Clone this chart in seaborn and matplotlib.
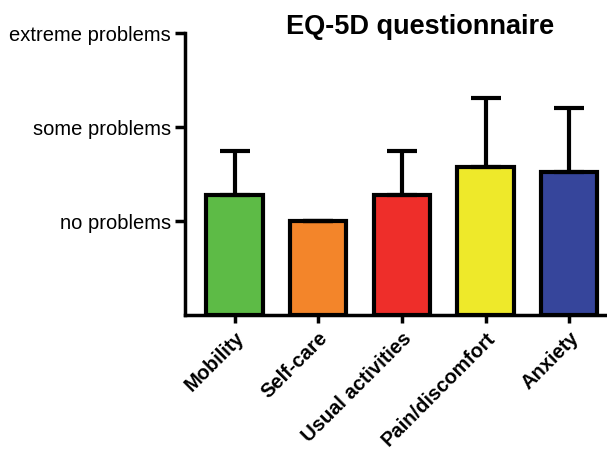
import matplotlib
matplotlib.use("Agg")
import matplotlib.pyplot as plt
import seaborn as sns
import numpy as np

categories = ["Mobility", "Self-care", "Usual activities", "Pain/discomfort", "Anxiety"]
means = [1.28, 1.00, 1.28, 1.57, 1.52]
upper = [1.74, 1.00, 1.74, 2.31, 2.20]
colors = ["#5DBB46", "#F3852A", "#EE2E2A", "#EEE92A", "#36459B"]
ytick_vals = [1, 2, 3]
ytick_labels = ["no problems", "some problems", "extreme problems"]
title = "EQ-5D questionnaire"

sns.set_style("ticks")
plt.rcParams['font.family'] = ['Liberation Sans', 'DejaVu Sans']
plt.rcParams['text.color'] = 'black'
plt.rcParams['xtick.color'] = 'black'
plt.rcParams['ytick.color'] = 'black'
plt.rcParams['axes.edgecolor'] = 'black'

fig = plt.figure(figsize=(6.07, 4.52), dpi=100)
ax = fig.add_axes([0.305, 0.301, 0.692, 0.624])

sns.barplot(x=categories, y=means, hue=categories, palette=colors, legend=False,
            width=0.67, edgecolor="black", linewidth=3, ax=ax, saturation=1)

err = np.array(upper) - np.array(means)
xs = np.arange(len(categories))
ax.errorbar(xs, means, yerr=[np.zeros(len(err)), err], fmt="none", ecolor="black",
            elinewidth=3, capsize=11, capthick=3, zorder=1)

ax.set_ylim(0, 3)
ax.set_xlim(-0.59, 4.43)
ax.set_yticks(ytick_vals)
ax.set_yticklabels(ytick_labels, fontsize=14.5)
ax.set_xticks(xs)
ax.set_xticklabels(categories, rotation=45, ha="right", rotation_mode="anchor",
                   fontsize=14.5, fontweight="bold")
ax.tick_params(axis="y", length=7, width=2.5, pad=3, labelcolor="black")
ax.tick_params(axis="x", length=6, width=2.5, pad=3, labelcolor="black")
for s in ["top", "right"]:
    ax.spines[s].set_visible(False)
for s in ["left", "bottom"]:
    ax.spines[s].set_linewidth(2.5)
    ax.spines[s].set_color("black")
ax.set_xlabel("")
ax.set_ylabel("")

fig.text(0.692, 0.94, title, ha="center", va="center", fontsize=19.5, fontweight="bold",
         color="black")

fig.savefig("out.png", dpi=100)
